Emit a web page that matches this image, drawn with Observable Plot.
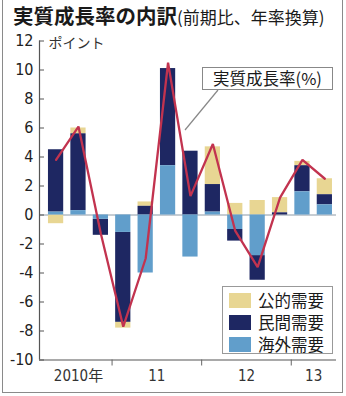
<!DOCTYPE html>
<html><head><meta charset="utf-8">
<script src="https://cdn.jsdelivr.net/npm/d3@7"></script>
<script src="https://cdn.jsdelivr.net/npm/@observablehq/plot@0.6"></script>
<style>
body{margin:0;background:#fff;}
#wrap{position:relative;width:346px;height:396px;overflow:hidden;font-family:"Noto Sans CJK JP",sans-serif;background:#fff;}
#frame{position:absolute;left:2px;top:-3px;width:339px;height:394px;border:1.5px solid #8a8a8a;pointer-events:none;}
#title{height:30px;line-height:30px;padding-left:13px;white-space:nowrap;color:#1a1a1a;}
#title b{font-size:20.5px;font-weight:700;}
#title span{font-size:17px;font-weight:400;}
#legend{position:absolute;left:222px;top:286px;width:111px;height:68px;border:1px solid #999;background:#fff;box-sizing:border-box;}
.row{position:absolute;left:6px;height:22px;display:flex;align-items:center;font-size:16.5px;color:#1a1a1a;}
.sw{width:22px;height:15px;margin-right:7px;}
#anno{position:absolute;left:202px;top:67px;width:131px;height:23px;border:1px solid #888;background:#fff;box-sizing:border-box;font-size:16.5px;line-height:21px;text-align:center;color:#1a1a1a;white-space:nowrap;}
#leader{position:absolute;left:0;top:0;pointer-events:none;}
</style></head>
<body>
<div id="wrap">
  <div id="title"><b>実質成長率の内訳</b><span>(前期比、年率換算)</span></div>
  <div id="chart"></div>
  <svg id="leader" width="346" height="396"><line x1="218" y1="90" x2="185" y2="130" stroke="#888" stroke-width="1.2"/></svg>
  <div id="anno">実質成長率(%)</div>
  <div id="legend"></div>
  <div id="frame"></div>
</div>
<script>
const quarters = ["2010Q2","2010Q3","2010Q4","2011Q1","2011Q2","2011Q3","2011Q4","2012Q1","2012Q2","2012Q3","2012Q4","2013Q1","2013Q2"];
const foreignDemand = [0.2, 0.3, -0.3, -1.2, -4.0, 3.4, -2.9, 0.2, -1.0, -2.8, 0.0, 1.6, 0.7];
const privateDemand = [4.3, 5.3, -1.1, -6.2, 0.6, 6.7, 4.4, 1.9, -0.8, -1.7, 0.15, 1.8, 0.7];
const publicDemand  = [-0.6, 0.4, 0.0, -0.4, 0.3, 0.0, 0.0, 2.6, 0.8, 1.0, 1.05, 0.3, 1.1];
const growthRate    = [3.8, 6.1, -1.3, -7.7, -3.0, 10.5, 1.3, 4.9, -1.1, -3.6, 1.2, 3.8, 2.5];
const seriesNames = ["公的需要", "民間需要", "海外需要"];
const seriesColors = {"公的需要": "#e8d693", "民間需要": "#1e2762", "海外需要": "#619ecb"};
const yTicks = [-10, -8, -6, -4, -2, 0, 2, 4, 6, 8, 10, 12];
const yearLabels = {"2010": "2010年", "2011": "11", "2012": "12", "2013": "13"};
const unitLabel = "ポイント";

// stack: foreign nearest zero, then private, then public (positive and negative separately)
const stackOrder = [["海外需要", foreignDemand], ["民間需要", privateDemand], ["公的需要", publicDemand]];
const rows = [];
quarters.forEach((q, i) => {
  let pos = 0, neg = 0;
  for (const [name, arr] of stackOrder) {
    const v = arr[i];
    if (v >= 0) { rows.push({i, name, y1: pos, y2: pos + v}); pos += v; }
    else { rows.push({i, name, y1: neg, y2: neg + v}); neg += v; }
  }
});
const lineData = growthRate.map((v, i) => ({i, v}));

// year groups
const years = [...new Set(quarters.map(q => q.slice(0, 4)))];
const yearGroups = years.map(y => {
  const idx = quarters.map((q, i) => q.startsWith(y) ? i : -1).filter(i => i >= 0);
  return {year: y, label: yearLabels[y], mid: d3.mean(idx), last: d3.max(idx)};
});
const boundaries = yearGroups.slice(0, -1).map(g => g.last + 0.5);

const xDomain = [-0.74, 12.52];
const half = 0.34;
const numFont = "'DejaVu Sans Condensed','Noto Sans CJK JP',sans-serif";

const chart = Plot.plot({
  width: 346, height: 366,
  marginTop: 10.5, marginBottom: 36.5, marginLeft: 39, marginRight: 10,
  x: {domain: xDomain, axis: null},
  y: {domain: [-10, 12], axis: null},
  style: {fontFamily: numFont, background: "transparent", overflow: "visible"},
  marks: [
    Plot.ruleY([0], {stroke: "#8d9aa6", strokeWidth: 1}),
    ...seriesNames.map(name => Plot.rect(rows.filter(r => r.name === name), {
      x1: d => d.i - half, x2: d => d.i + half, y1: "y1", y2: "y2", fill: seriesColors[name]
    })),
    Plot.line(lineData, {x: "i", y: "v", stroke: "#c2334f", strokeWidth: 2.3, strokeLinejoin: "miter"}),
    Plot.ruleX([xDomain[0]], {stroke: "#555", strokeWidth: 1.2}),
    Plot.ruleY([-10], {stroke: "#555", strokeWidth: 1.2}),
    Plot.axisY({ticks: yTicks, tickSize: -5, tickPadding: 11, fontSize: 16, fill: "#222", stroke: "#555", tickFormat: d => String(d)}),
    Plot.axisX({ticks: boundaries, tickSize: 6, tickFormat: () => "", stroke: "#666"}),
    Plot.text(yearGroups, {x: "mid", y: () => -10, text: "label", dy: 16, lineAnchor: "middle", fontSize: 15, fill: "#333"}),
    Plot.text([unitLabel], {x: () => xDomain[0], y: () => 12, text: d => d, dx: 9, dy: 3, textAnchor: "start", lineAnchor: "middle", fontSize: 14, fill: "#333", fontFamily: "'Noto Sans CJK JP',sans-serif"})
  ]
});
document.getElementById("chart").appendChild(chart);

const legend = document.getElementById("legend");
seriesNames.forEach((name, k) => {
  const row = document.createElement("div");
  row.className = "row";
  row.style.top = (2 + k * 22) + "px";
  row.innerHTML = `<div class="sw" style="background:${seriesColors[name]}"></div><span>${name}</span>`;
  legend.appendChild(row);
});
</script>
</body></html>
